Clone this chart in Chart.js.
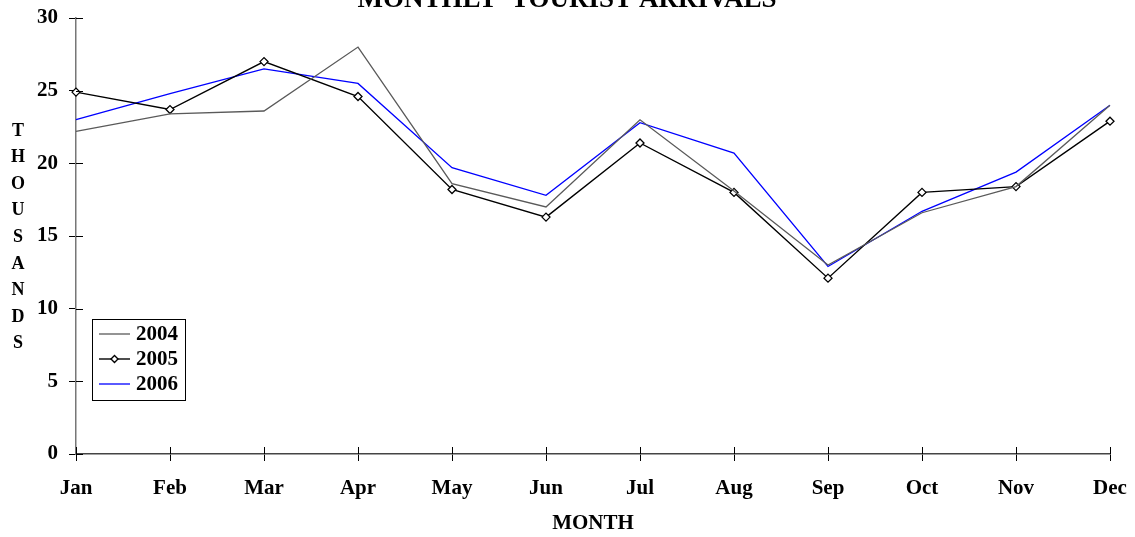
<!DOCTYPE html>
<html>
<head>
<meta charset="utf-8">
<script src="https://cdn.jsdelivr.net/npm/chart.js@4"></script>
<style>
  html, body { margin: 0; padding: 0; background: #fff; }
  #wrap { width: 1135px; height: 537px; }
</style>
</head>
<body>
<div id="wrap"><canvas id="c" width="1135" height="537"></canvas></div>
<script>
const months = ["Jan", "Feb", "Mar", "Apr", "May", "Jun", "Jul", "Aug", "Sep", "Oct", "Nov", "Dec"];
const arrivals2004 = [22.2, 23.4, 23.6, 28.0, 18.6, 17.0, 23.0, 18.1, 13.0, 16.6, 18.4, 24.0];
const arrivals2005 = [24.9, 23.7, 27.0, 24.6, 18.2, 16.3, 21.4, 18.0, 12.1, 18.0, 18.4, 22.9];
const arrivals2006 = [23.0, 24.8, 26.5, 25.5, 19.7, 17.8, 22.8, 20.7, 12.9, 16.7, 19.4, 24.0];
const yTicks = [0, 5, 10, 15, 20, 25, 30];

const serif = "'Liberation Serif', 'Times New Roman', serif";

// titles, crossing tick marks and the boxed legend
const extras = {
    id: "extras",
    afterDraw(chart) {
        const ctx = chart.ctx;
        const area = chart.chartArea;
        const xs = chart.scales.x, ys = chart.scales.y;
        ctx.save();

        // inner half of the tick marks
        ctx.strokeStyle = "#000";
        ctx.lineWidth = 1;
        ctx.beginPath();
        xs.ticks.forEach((t, i) => {
            const px = Math.round(xs.getPixelForTick(i)) + 0.5;
            ctx.moveTo(px, area.bottom);
            ctx.lineTo(px, area.bottom - 7);
        });
        ys.ticks.forEach((t, i) => {
            const py = Math.round(ys.getPixelForTick(i)) + 0.5;
            ctx.moveTo(area.left, py);
            ctx.lineTo(area.left + 7, py);
        });
        ctx.stroke();

        ctx.fillStyle = "#000";
        ctx.textAlign = "center";

        // main title, partly cut off at the top
        ctx.textBaseline = "alphabetic";
        ctx.font = "bold 27px " + serif;
        ctx.fillText("MONTHLY  TOURIST ARRIVALS", 567, 7);

        ctx.textBaseline = "middle";
        // x axis title
        ctx.font = "bold 21px " + serif;
        ctx.fillText("MONTH", (area.left + area.right) / 2, 524);

        // stacked y axis title
        ctx.font = "bold 18px " + serif;
        "THOUSANDS".split("").forEach((ch, i) => {
            ctx.fillText(ch, 18, 131 + i * 26.6);
        });

        // legend box
        const lx = 92, ly = 319, lw = 93, lh = 81;
        ctx.fillStyle = "#fff";
        ctx.fillRect(lx, ly, lw, lh);
        ctx.strokeStyle = "#000";
        ctx.lineWidth = 1;
        ctx.strokeRect(lx + 0.5, ly + 0.5, lw, lh);
        chart.data.datasets.forEach((ds, i) => {
            const cy = ly + 15 + i * 25;
            ctx.strokeStyle = ds.borderColor;
            ctx.lineWidth = ds.borderWidth;
            ctx.beginPath();
            ctx.moveTo(lx + 7, cy);
            ctx.lineTo(lx + 38, cy);
            ctx.stroke();
            if (ds.pointRadius > 0) {
                const mx = lx + 22.5, r = 3.5;
                ctx.fillStyle = "#fff";
                ctx.beginPath();
                ctx.moveTo(mx, cy - r);
                ctx.lineTo(mx + r, cy);
                ctx.lineTo(mx, cy + r);
                ctx.lineTo(mx - r, cy);
                ctx.closePath();
                ctx.fill();
                ctx.stroke();
            }
            ctx.fillStyle = "#000";
            ctx.textAlign = "left";
            ctx.font = "bold 21px " + serif;
            ctx.fillText(ds.label, lx + 44, cy + 1);
        });
        ctx.restore();
    }
};

new Chart(document.getElementById("c"), {
    type: "line",
    data: {
        labels: months,
        datasets: [
            {
                label: "2004",
                data: arrivals2004,
                borderColor: "#5a5a5a",
                borderWidth: 1.3,
                pointRadius: 0,
                tension: 0
            },
            {
                label: "2005",
                data: arrivals2005,
                borderColor: "#000000",
                borderWidth: 1.4,
                pointStyle: "rectRot",
                pointRadius: 4,
                pointBackgroundColor: "#ffffff",
                pointBorderColor: "#000000",
                pointBorderWidth: 1.3,
                tension: 0
            },
            {
                label: "2006",
                data: arrivals2006,
                borderColor: "#0000ff",
                borderWidth: 1.3,
                pointRadius: 0,
                tension: 0
            }
        ]
    },
    options: {
        responsive: false,
        animation: false,
        layout: { padding: { top: 18, right: 25, left: 0, bottom: 0 } },
        plugins: {
            legend: { display: false },
            title: { display: false },
            tooltip: { enabled: false }
        },
        scales: {
            x: {
                offset: false,
                afterFit(scale) {
                    scale.height = 83;
                    scale.paddingLeft = 0;
                    scale.paddingRight = 0;
                },
                grid: {
                    drawOnChartArea: false,
                    drawTicks: true,
                    tickLength: 7,
                    tickColor: "#000"
                },
                border: { color: "#444", width: 1.5 },
                ticks: {
                    color: "#000",
                    padding: 15,
                    maxRotation: 0,
                    autoSkip: false,
                    font: { family: serif, size: 21, weight: "bold" }
                }
            },
            y: {
                min: 0,
                max: 30,
                afterFit(scale) {
                    scale.width = 76;
                    scale.paddingTop = 0;
                    scale.paddingBottom = 0;
                },
                afterBuildTicks(scale) { scale.ticks = yTicks.map(v => ({ value: v })); },
                grid: {
                    drawOnChartArea: false,
                    drawTicks: true,
                    tickLength: 7,
                    tickColor: "#000"
                },
                border: { color: "#777", width: 1.5 },
                ticks: {
                    color: "#000",
                    padding: 11,
                    font: { family: serif, size: 21, weight: "bold" }
                }
            }
        }
    },
    plugins: [extras]
});
</script>
</body>
</html>
